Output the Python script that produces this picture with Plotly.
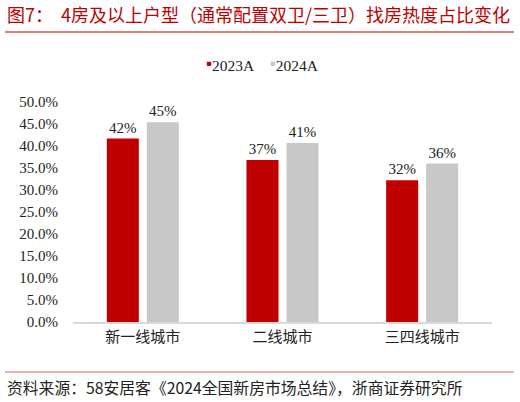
import plotly.graph_objects as go

categories = ["新一线城市", "二线城市", "三四线城市"]
series_names = ["2023A", "2024A"]
values_2023 = [41.7, 36.8, 32.2]
values_2024 = [45.4, 40.7, 36.0]
labels_2023 = ["42%", "37%", "32%"]
labels_2024 = ["45%", "41%", "36%"]
y_ticks = [0, 5, 10, 15, 20, 25, 30, 35, 40, 45, 50]
y_tick_labels = [f"{v:.1f}%" for v in y_ticks]

title_text = "图7：  4房及以上户型（通常配置双卫/三卫）找房热度占比变化"
source_text = "资料来源：58安居客《2024全国新房市场总结》，浙商证券研究所"

RED = "#c00000"
GRAY = "#c8c8c8"
FONT = "Liberation Serif, Times New Roman, Noto Sans CJK SC, serif"
CJK = "Noto Sans CJK SC, Liberation Serif, serif"

fig = go.Figure()
fig.add_trace(go.Bar(
    x=categories, y=values_2023, name=series_names[0],
    marker=dict(color=RED, line=dict(width=0)),
    text=labels_2023, textposition="outside", cliponaxis=False,
    textfont=dict(family=FONT, size=15, color="#222222"),
))
fig.add_trace(go.Bar(
    x=categories, y=values_2024, name=series_names[1],
    marker=dict(color=GRAY, line=dict(width=0)),
    text=labels_2024, textposition="outside", cliponaxis=False,
    textfont=dict(family=FONT, size=15, color="#222222"),
))

fig.update_layout(
    width=520, height=402,
    margin=dict(l=73, r=28, t=102, b=80),
    paper_bgcolor="white", plot_bgcolor="white",
    barmode="group", bargap=0.427, bargroupgap=0.2,
    font=dict(family=FONT, size=15, color="#222222"),
    showlegend=False,
    xaxis=dict(
        showline=True, linecolor="#d9d9d9", linewidth=2,
        ticks="", tickfont=dict(family=CJK, size=15, color="#222222"),
        showgrid=False,
    ),
    yaxis=dict(
        range=[0, 50], tickvals=y_ticks, ticktext=y_tick_labels,
        showgrid=False, showline=False, zeroline=False, ticks="",
        tickfont=dict(family=FONT, size=15, color="#222222"),
        ticklabelstandoff=14,
    ),
)

# legend drawn as text with coloured square glyphs
nb = "\u00a0"
sq_style = "font-size:17px;baseline-shift:2px"
legend_text = (
    f"<span style='color:{RED};{sq_style}'>▪</span>{series_names[0]}"
    + nb * 4
    + f"<span style='color:{GRAY};{sq_style}'>▪</span>{series_names[1]}"
)
fig.add_annotation(
    text=legend_text, xref="paper", yref="paper",
    x=(262 - 73) / 419, y=(322 - 64) / 220, xanchor="center", yanchor="middle",
    showarrow=False, font=dict(family=FONT, size=15.5, color="#222222"),
)

fig.add_annotation(
    text=title_text, xref="paper", yref="paper",
    x=(5 - 73) / 419, y=(322 - 14) / 220, xanchor="left", yanchor="middle",
    showarrow=False, font=dict(family=CJK, size=18, color=RED),
)
fig.add_shape(type="line", xref="paper", yref="paper",
              x0=(5 - 73) / 419, x1=(514 - 73) / 419,
              y0=(322 - 32) / 220, y1=(322 - 32) / 220,
              line=dict(color=RED, width=1.2))
fig.add_shape(type="line", xref="paper", yref="paper",
              x0=(5 - 73) / 419, x1=(514 - 73) / 419,
              y0=(322 - 372) / 220, y1=(322 - 372) / 220,
              line=dict(color="#e06060", width=1))
fig.add_annotation(
    text=source_text, xref="paper", yref="paper",
    x=(5 - 73) / 419, y=(322 - 387) / 220, xanchor="left", yanchor="middle",
    showarrow=False, font=dict(family=CJK, size=15.8, color="#222222"),
)

fig.write_html("out.html")
